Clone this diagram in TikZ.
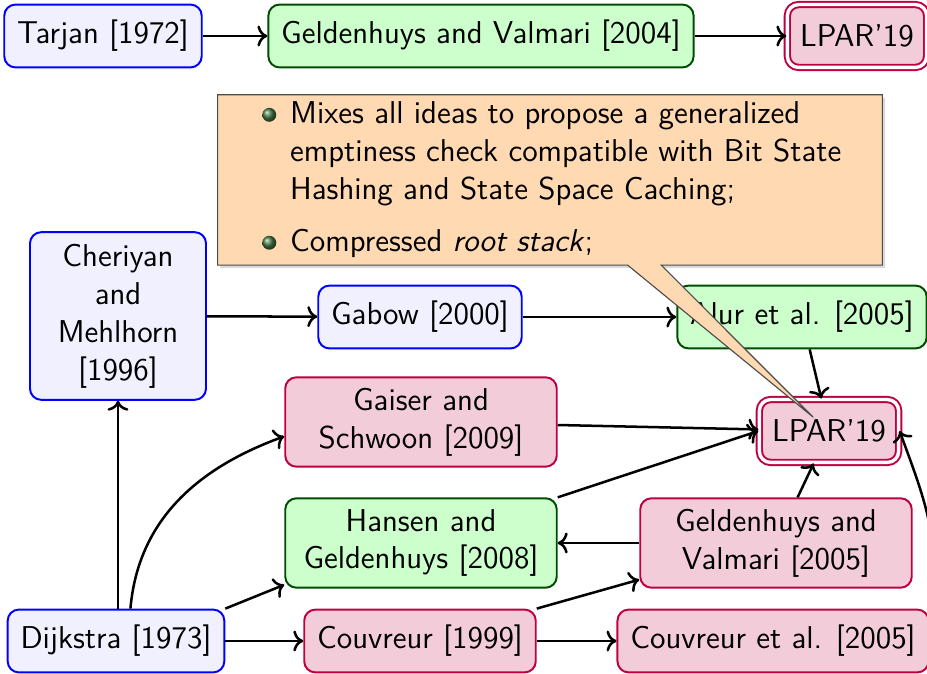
\documentclass[tikz,border=0pt]{standalone}
\usepackage{fontspec}
\usepackage{xcolor}
\usetikzlibrary{arrows.meta, positioning, calc, shapes.callouts, shadows}

\definecolor{bulletgreen}{RGB}{70,120,70}
\setlength{\leftmargini}{19.5pt}
\newcommand{\ballitem}{\tikz[baseline=-0.65ex]\shade[ball color=bulletgreen] (0,0) circle (2.5pt);}

\begin{document}
\begin{tikzpicture}[
        x=0.358pt, y=-0.358pt,
        font=\sffamily\fontsize{11.3}{13.6}\selectfont,
        box/.style={
            draw,
            line width=0.7pt,
            rectangle,
            rounded corners=4pt,
            minimum height=22.5pt,
            inner xsep=4.6pt,
            align=center
        },
        bluebox/.style={box, draw=blue, fill=blue!6},
        greenbox/.style={box, draw=green!30!black, fill=green!20},
        redbox/.style={box, draw=purple, fill=purple!20},
        lparbox/.style={redbox, double=white, double distance=1.2pt},
        twoline/.style={text width=88pt, minimum height=32pt},
        note/.style={
            rectangle callout,
            draw=black!70,
            fill=orange!30,
            callout pointer width=12pt,
            minimum width=238pt,
            minimum height=61pt,
            inner ysep=2pt,
            drop shadow={shadow xshift=1pt, shadow yshift=-1pt, opacity=0.3}
        },
        arrow/.style={->, line width=0.9pt}
    ]
        \useasboundingbox (0,0) rectangle (927,674);

        % first row
        \node[bluebox] (tarjan) at (103,36) {Tarjan [1972]};
        \node[greenbox] (gv04) at (481,36) {Geldenhuys and Valmari [2004]};
        \node[lparbox] (lpartop) at (857,36) {LPAR'19};

        % lowlink based algorithms
        \node[bluebox, minimum width=63pt, minimum height=60pt] (cheriyan) at (118,316)
            {Cheriyan\\and\\Mehlhorn\\{}[1996]};
        \node[bluebox] (gabow) at (420,317) {Gabow [2000]};
        \node[greenbox] (alur) at (802,317) {Alur et al. [2005]};

        \node[lparbox] (lpar) at (829,431) {LPAR'19};
        \node[redbox, twoline] (gaiser) at (421,422) {Gaiser and\\Schwoon [2009]};
        \node[greenbox, twoline] (hansen) at (421,543) {Hansen and\\Geldenhuys [2008]};
        \node[redbox, twoline] (gv05) at (776,543) {Geldenhuys and\\Valmari [2005]};

        % last row
        \node[bluebox] (dijkstra) at (116,641) {Dijkstra [1973]};
        \node[redbox] (couvreur) at (420,641) {Couvreur [1999]};
        \node[redbox] (couvreuretal) at (773,641) {Couvreur et al. [2005]};

        \draw[arrow] (tarjan) -- (gv04);
        \draw[arrow] (gv04) -- (lpartop);

        \draw[arrow] (cheriyan) -- (gabow);
        \draw[arrow] (gabow) -- (alur);
        \draw[arrow] (alur) -- (lpar);
        \draw[arrow] (gaiser) -- (lpar);
        \draw[arrow] (hansen.north east) -- (lpar.west);
        \draw[arrow] (gv05) -- (lpar);
        \draw[arrow] (gv05) -- (hansen);
        \draw[arrow] (couvreuretal.north east) to[out=80, in=-70] (lpar.east);

        \draw[arrow] (dijkstra.north -| cheriyan.south) -- (cheriyan.south);
        \draw[arrow] (dijkstra.66) to[out=85, in=200] (gaiser.186);
        \draw[arrow] (dijkstra.north east) -- (hansen.197);
        \draw[arrow] (dijkstra) -- (couvreur);
        \draw[arrow] (couvreur.north east) -- (gv05.195);
        \draw[arrow] (couvreur) -- (couvreuretal);

        \node[note, callout absolute pointer={($(lpar.center)+(-16,-14)$)}] (note) at (550,180) {%
            \begin{minipage}{225pt}
            \begin{itemize}
                \setlength{\parskip}{0pt}
                \setlength{\itemsep}{5pt}
                \item[\ballitem] Mixes all ideas to propose a generalized\newline
                    emptiness check compatible with Bit State\newline
                    Hashing and State Space Caching;
                \item[\ballitem] Compressed \textit{root stack};
            \end{itemize}
            \end{minipage}};

    \end{tikzpicture}
\end{document}
